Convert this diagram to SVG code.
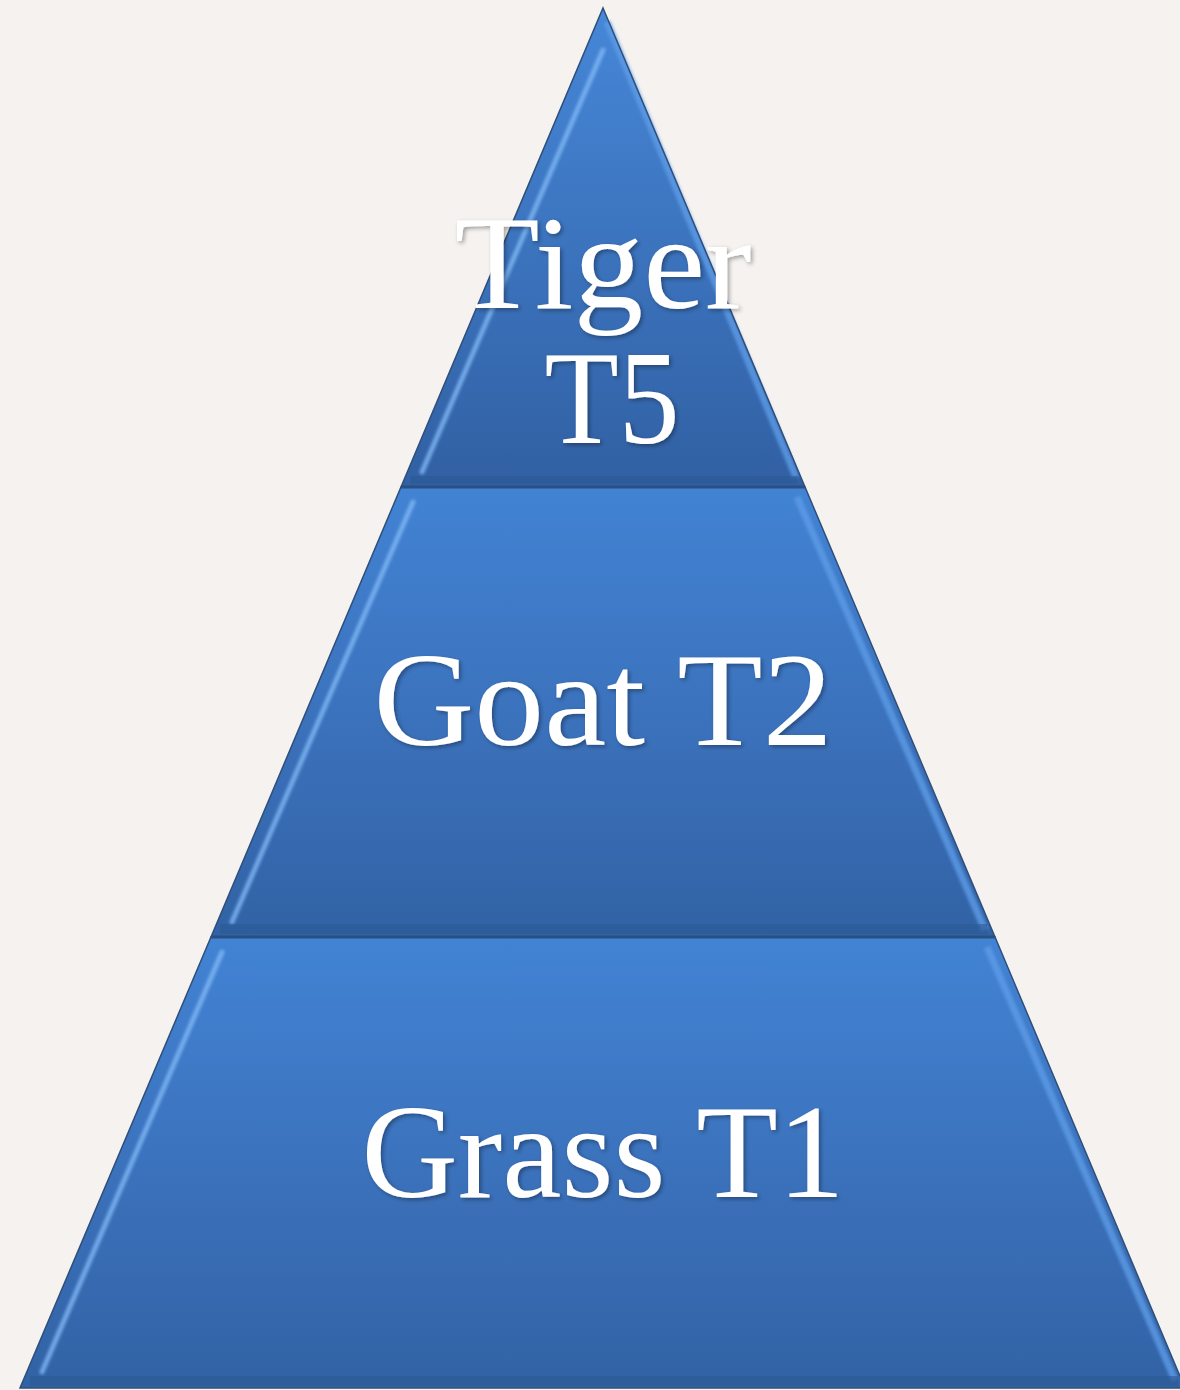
<svg xmlns="http://www.w3.org/2000/svg" width="1180" height="1390" viewBox="0 0 1180 1390">
<defs>
<linearGradient id="gTop" x1="0" y1="0" x2="0" y2="1">
<stop offset="0" stop-color="#4687d8"/>
<stop offset="1" stop-color="#3160a3"/>
</linearGradient>
<linearGradient id="gMid" x1="0" y1="0" x2="0" y2="1">
<stop offset="0" stop-color="#4283d4"/>
<stop offset="0.6" stop-color="#3a6fb8"/>
<stop offset="1" stop-color="#3162a5"/>
</linearGradient>
<filter id="ts" x="-10%" y="-10%" width="120%" height="130%">
<feDropShadow dx="2" dy="2" stdDeviation="2" flood-color="#000" flood-opacity="0.35"/>
</filter>
<filter id="blur" x="-10%" y="-10%" width="120%" height="120%">
<feGaussianBlur stdDeviation="1.5"/>
</filter>
</defs>
<style>
.edge{fill:none;stroke:#2f4f7a;stroke-width:1.5}
.hl{fill:none;stroke:#80b8f5;stroke-width:5;stroke-linecap:round;opacity:0.8;filter:url(#blur)}
.hr{fill:none;stroke:#5d9be6;stroke-width:7;opacity:0.8;filter:url(#blur)}
.div{stroke:#2a4f80;stroke-width:3}
.lbl{font-family:"Liberation Serif","DejaVu Serif",serif;font-size:134px;fill:#ffffff;text-anchor:middle;filter:url(#ts)}
</style>
<rect width="1180" height="1390" fill="#f5f2ef"/>
<g id="layer-top">
<polygon points="603,8 805,487 401,487" fill="url(#gTop)"/>
<polyline class="hl" points="603,50 422,472"/>
<polyline class="hr" points="607,22 796,477"/>
<line x1="410" y1="480" x2="797" y2="480" stroke="#2d5a96" stroke-width="8" opacity="0.6"/>
<polygon class="edge" points="603,8 805,487 401,487"/>
<text class="lbl" x="603" y="308" textLength="297" lengthAdjust="spacingAndGlyphs">Tiger</text>
<text class="lbl" x="612" y="443" textLength="135" lengthAdjust="spacingAndGlyphs">T5</text>
</g>
<g id="layer-mid">
<polygon points="401,487 805,487 995,937 211,937" fill="url(#gMid)"/>
<polyline class="hl" points="413,502 232,922"/>
<polyline class="hr" points="797,497 985,930"/>
<line x1="220" y1="929" x2="987" y2="929" stroke="#2d5a96" stroke-width="10" opacity="0.6"/>
<polygon class="edge" points="401,487 805,487 995,937 211,937"/>
<text class="lbl" x="603" y="745" textLength="459" lengthAdjust="spacingAndGlyphs">Goat T2</text>
</g>
<g id="layer-bot">
<polygon points="211,937 995,937 1185,1388 20,1388" fill="url(#gMid)"/>
<polyline class="hl" points="222,952 42,1372"/>
<polyline class="hr" points="987,947 1175,1380"/>
<line x1="30" y1="1381" x2="1178" y2="1381" stroke="#2d5a96" stroke-width="10" opacity="0.6"/>
<polygon class="edge" points="211,937 995,937 1185,1388 20,1388"/>
<text class="lbl" x="603" y="1197" textLength="483" lengthAdjust="spacingAndGlyphs">Grass T1</text>
</g>
<g id="connectors">
<line class="div" x1="401" y1="487" x2="805" y2="487"/>
<line class="div" x1="211" y1="937" x2="995" y2="937"/>
</g>
</svg>
